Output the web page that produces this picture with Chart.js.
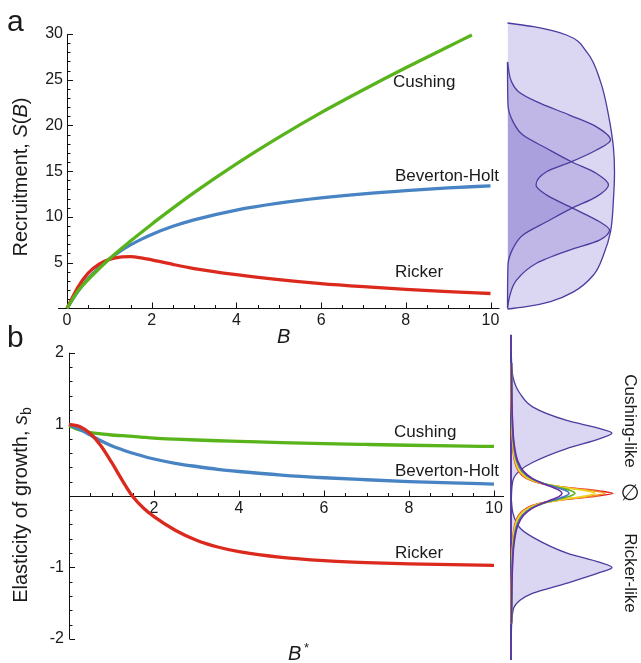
<!DOCTYPE html>
<html>
<head>
<meta charset="utf-8">
<script src="https://cdn.jsdelivr.net/npm/chart.js@4.4.0/dist/chart.umd.min.js"></script>
<style>
  html, body { margin: 0; padding: 0; background: #fff; }
  #fig { position: relative; width: 641px; height: 663px; overflow: hidden;
         font-family: "Liberation Sans", Arial, "DejaVu Sans", sans-serif; color: #1a1a1a; }
  #fig canvas { position: absolute; }
  .lbl { position: absolute; white-space: nowrap; line-height: 1; }
  .curve { font-size: 17px; transform: translateY(-50%); }
  .panel { font-size: 30px; }
  .title { font-size: 20px; transform: translate(-50%, -50%) rotate(-90deg); }
  .side { font-size: 17px; transform: translate(-50%, -50%) rotate(90deg); }
  .axis { font-size: 20px; font-style: italic; }
  sub { font-size: 0.7em; vertical-align: -0.3em; line-height: 0; }
</style>
</head>
<body>
<div id="fig">
  <canvas id="chartA" width="505" height="345" style="left:0;top:0"></canvas>
  <canvas id="sideA" width="141" height="320" style="left:500px;top:0"></canvas>
  <canvas id="chartB" width="510" height="333" style="left:0;top:330px"></canvas>
  <canvas id="sideB" width="141" height="333" style="left:500px;top:330px"></canvas>

  <div class="lbl panel" style="left:7px;top:5.6px">a</div>
  <div class="lbl panel" style="left:7px;top:321.6px">b</div>

  <div class="lbl title" style="left:20px;top:177px">Recruitment, <i>S</i>(<i>B</i>)</div>
  <div class="lbl title" style="left:20px;top:505px">Elasticity of growth, <i>s</i><sub>b</sub></div>
  <div class="lbl axis" style="left:277px;top:326px">B</div>
  <div class="lbl axis" style="left:288px;bottom:0px">B</div>
  <div class="lbl" style="left:304px;bottom:9px;font-size:13px">*</div>

  <div class="lbl curve" style="left:393px;top:81px">Cushing</div>
  <div class="lbl curve" style="left:395px;top:175px">Beverton-Holt</div>
  <div class="lbl curve" style="left:395px;top:271px">Ricker</div>
  <div class="lbl curve" style="left:394px;top:431px">Cushing</div>
  <div class="lbl curve" style="left:395px;top:470px">Beverton-Holt</div>
  <div class="lbl curve" style="left:395px;top:552px">Ricker</div>

  <div class="lbl side" style="left:630px;top:421px">Cushing-like</div>
  <div class="lbl side" style="left:630px;top:493px;font-size:22px;transform:translate(-50%,-50%)">&#8709;</div>
  <div class="lbl side" style="left:630px;top:573px">Ricker-like</div>
</div>

<script>
// painel a: recrutamento S(B)
const bGrid = [0, 0.25, 0.5, 0.75, 1, 1.25, 1.5, 1.75, 2, 2.5, 3, 4, 5, 6, 7, 8, 9, 10];
const rickerS = [0, 2.25, 3.85, 4.8, 5.35, 5.6, 5.65, 5.52, 5.3, 4.8, 4.35, 3.68, 3.14, 2.7, 2.36, 2.07, 1.82, 1.62];
const bevHoltS = [0, 1.81, 3.25, 4.42, 5.4, 6.23, 6.93, 7.54, 8.08, 8.97, 9.68, 10.75, 11.5, 12.07, 12.52, 12.87, 13.16, 13.4];
const cushingB = [0, 0.25, 0.5, 0.75, 1, 1.5, 2, 2.5, 3, 4, 5, 6, 7, 8, 9, 9.56];
const cushingS = [0, 1.85, 3.15, 4.3, 5.4, 7.35, 9.2, 10.95, 12.65, 15.8, 18.7, 21.4, 23.9, 26.3, 28.6, 29.9];
const aXTicks = [0, 2, 4, 6, 8, 10];
const aYTicks = [5, 10, 15, 20, 25, 30];

// painel b: elasticidade s_b
const bStarGrid = [0, 0.25, 0.5, 0.75, 1, 1.25, 1.5, 1.75, 2, 2.5, 3, 3.5, 4, 5, 6, 7, 8, 9, 10];
const rickerSb = [1.0, 0.97, 0.87, 0.7, 0.47, 0.22, -0.01, -0.17, -0.29, -0.48, -0.62, -0.715, -0.78, -0.86, -0.905, -0.932, -0.95, -0.962, -0.97];
const bevHoltSb = [1.0, 0.93, 0.85, 0.77, 0.7, 0.645, 0.595, 0.553, 0.515, 0.455, 0.41, 0.37, 0.34, 0.29, 0.253, 0.225, 0.2, 0.18, 0.165];
const cushingSb = [0.98, 0.92, 0.885, 0.865, 0.85, 0.84, 0.83, 0.818, 0.807, 0.792, 0.78, 0.77, 0.762, 0.745, 0.73, 0.718, 0.707, 0.698, 0.69];
const bXTicks = [2, 4, 6, 8, 10];
const bYTicks = [-2, -1, 1, 2];

// densidades laterais do painel a (posição 0..10 de baixo para cima)
const sideAOuterPos = [10, 9.87, 9.58, 9.0, 7.95, 6.78, 5.62, 4.8, 3.87, 2.7, 1.89, 1.19, 0.6, 0.26, 0.08, 0];
const sideAOuter = [0, 0.26, 0.59, 0.79, 0.93, 1.01, 1.06, 1.07, 1.06, 1.03, 0.96, 0.86, 0.66, 0.43, 0.19, 0];
const sideABimodalPos = [8.64, 7.95, 7.6, 7.25, 6.78, 6.37, 5.91, 5.56, 5.15, 4.8, 4.34, 3.99, 3.52, 3.05, 2.76, 2.41, 2.06, 1.6, 1.01, 0.43, 0.02];
const sideABimodal = [0, 0.04, 0.11, 0.29, 0.62, 0.89, 1.03, 0.89, 0.64, 0.39, 0.285, 0.39, 0.655, 0.92, 1.02, 0.92, 0.62, 0.29, 0.09, 0.02, 0];
const sideAMiddlePos = [8.64, 7.13, 6.55, 6.08, 5.62, 5.15, 4.74, 4.34, 3.93, 3.52, 3.05, 2.59, 2.12, 1.54, 0.03];
const sideAMiddle = [0, 0.005, 0.055, 0.155, 0.39, 0.64, 0.89, 1.01, 0.89, 0.64, 0.39, 0.155, 0.055, 0.005, 0];

// densidades laterais do painel b (mesma escala de s_b)
const sideBUpperPos = [2.0, 1.66, 1.43, 1.24, 1.054, 0.94, 0.877, 0.8, 0.66, 0.47, 0.356, 0.216, -0.05];
const sideBUpper = [0.002, 0.02, 0.09, 0.22, 0.557, 0.89, 1.01, 0.89, 0.557, 0.22, 0.09, 0.02, 0.003];
const sideBLowerPos = [-0.05, -0.244, -0.45, -0.58, -0.8, -0.93, -1.0, -1.07, -1.22, -1.36, -1.46, -1.6, -2.0];
const sideBLower = [0.003, 0.02, 0.09, 0.22, 0.56, 0.89, 1.01, 0.89, 0.56, 0.22, 0.09, 0.02, 0.002];
const rainbowPos = [1.855, 1.155, 0.735, 0.482, 0.342, 0.245, 0.175, 0.119, 0.077, 0.035, -0.007, -0.049, -0.105, -0.175, -0.272, -0.412, -0.665, -1.085, -1.785];
const rainbowRed = [0.0024, 0.0063, 0.016, 0.038, 0.077, 0.153, 0.29, 0.535, 0.832, 1.02, 0.832, 0.535, 0.29, 0.153, 0.077, 0.038, 0.016, 0.0063, 0.0024];
const rainbowOrange = [0.0026, 0.0067, 0.0171, 0.0406, 0.082, 0.16, 0.297, 0.528, 0.787, 0.94, 0.787, 0.528, 0.297, 0.16, 0.082, 0.0406, 0.0171, 0.0067, 0.0026];
const rainbowYellow = [0.0029, 0.0075, 0.019, 0.045, 0.09, 0.172, 0.308, 0.518, 0.727, 0.84, 0.727, 0.518, 0.308, 0.172, 0.09, 0.045, 0.019, 0.0075, 0.0029];
const rainbowGreen = [0.0038, 0.0098, 0.0246, 0.057, 0.11, 0.197, 0.32, 0.471, 0.587, 0.64, 0.587, 0.471, 0.32, 0.197, 0.11, 0.057, 0.0246, 0.0098, 0.0038];
const rainbowBlue = [0.0041, 0.0108, 0.0268, 0.061, 0.116, 0.203, 0.318, 0.447, 0.54, 0.58, 0.54, 0.447, 0.318, 0.203, 0.116, 0.061, 0.0268, 0.0108, 0.0041];
const rainbowPurple = [0.0048, 0.0124, 0.0305, 0.0685, 0.126, 0.211, 0.313, 0.416, 0.483, 0.51, 0.483, 0.416, 0.313, 0.211, 0.126, 0.0685, 0.0305, 0.0124, 0.0048];

const RED = '#db2a1d';
const BLUE = '#4884c4';
const GREEN = '#58b41a';
const OUTLINE = '#4b3ca0';
const LAVENDER = 'rgba(110, 90, 200, 0.25)';
const tickFont = { family: '"Liberation Sans", Arial, sans-serif', size: 16 };

function lineSet(xs, ys, color) {
  return {
    data: xs.map((x, i) => ({ x: x, y: ys[i] })),
    borderColor: color, borderWidth: 3.3, pointRadius: 0,
    cubicInterpolationMode: 'monotone', fill: false, clip: false
  };
}

function sideSet(pos, dens, color, filled, width) {
  return {
    data: pos.map((p, i) => ({ x: dens[i], y: p })),
    borderColor: color, borderWidth: width || 1.3, pointRadius: 0,
    cubicInterpolationMode: 'monotone',
    fill: filled ? { value: 0 } : false,
    backgroundColor: LAVENDER, clip: false
  };
}

// eixos no estilo Mathematica: linha + ticks maiores e menores para dentro
function mathAxes(spec) {
  return {
    id: 'mathAxes',
    beforeDatasetsDraw(chart) {
      const { ctx, scales: { x, y } } = chart;
      const ox = Math.round(x.getPixelForValue(0)) + 0.5;
      const oy = Math.round(y.getPixelForValue(0)) + 0.5;
      ctx.save();
      ctx.strokeStyle = '#111';
      ctx.lineWidth = 1;
      ctx.beginPath();
      ctx.moveTo(x.getPixelForValue(spec.xRange[0]) - spec.xExtend[0], oy);
      ctx.lineTo(x.getPixelForValue(spec.xRange[1]) + spec.xExtend[1], oy);
      ctx.moveTo(ox, y.getPixelForValue(spec.yRange[0]));
      ctx.lineTo(ox, y.getPixelForValue(spec.yRange[1]));
      const nx = Math.round((spec.xRange[1] - spec.xRange[0]) / spec.xMinor);
      for (let i = 0; i <= nx; i++) {
        const v = spec.xRange[0] + i * spec.xMinor;
        const major = Math.abs(v / spec.xMajor - Math.round(v / spec.xMajor)) < 1e-6;
        const tx = Math.round(x.getPixelForValue(v)) + 0.5;
        ctx.moveTo(tx, oy);
        ctx.lineTo(tx, oy - (major ? 6 : 3.5));
      }
      const ny = Math.round((spec.yRange[1] - spec.yRange[0]) / spec.yMinor);
      for (let i = 0; i <= ny; i++) {
        const v = spec.yRange[0] + i * spec.yMinor;
        const major = Math.abs(v / spec.yMajor - Math.round(v / spec.yMajor)) < 1e-6;
        const ty = Math.round(y.getPixelForValue(v)) + 0.5;
        ctx.moveTo(ox, ty);
        ctx.lineTo(ox + (major ? 5.5 : 3), ty);
      }
      ctx.stroke();
      ctx.restore();
    }
  };
}

// linha vertical roxa que serve de base às densidades do painel b
const sideBaseLine = {
  id: 'sideBaseLine',
  beforeDatasetsDraw(chart) {
    const { ctx, chartArea, scales: { x } } = chart;
    const bx = x.getPixelForValue(0);
    ctx.save();
    ctx.strokeStyle = '#5a3ea8';
    ctx.lineWidth = 2;
    ctx.beginPath();
    ctx.moveTo(bx, chartArea.top - 18);
    ctx.lineTo(bx, chartArea.bottom + 21);
    ctx.stroke();
    ctx.restore();
  }
};

const baseOptions = {
  responsive: false,
  animation: false,
  events: [],
  plugins: { legend: { display: false }, tooltip: { enabled: false }, filler: { drawTime: 'beforeDatasetsDraw' } }
};

function tickScale(min, max, ticks, extra) {
  return Object.assign({
    type: 'linear', min: min, max: max,
    grid: { display: false, drawTicks: false },
    border: { display: false },
    ticks: { font: tickFont, color: '#1a1a1a', maxRotation: 0, autoSkip: false, padding: 3 },
    afterBuildTicks: s => { s.ticks = ticks.map(v => ({ value: v })); }
  }, extra);
}

console.log('[figure] desenhando painel a');
new Chart(document.getElementById('chartA'), {
  type: 'line',
  data: { datasets: [lineSet(cushingB, cushingS, GREEN), lineSet(bGrid, rickerS, RED), lineSet(bGrid, bevHoltS, BLUE)] },
  options: Object.assign({}, baseOptions, {
    layout: { padding: { left: 0, top: 34, right: 14.5, bottom: 0 } },
    scales: {
      x: tickScale(0, 10, aXTicks, {
        afterFit: s => { s.height = 36.7; s.paddingLeft = 0; s.paddingRight = 0; }
      }),
      y: tickScale(0, 30, aYTicks, {
        ticks: { font: tickFont, color: '#1a1a1a', autoSkip: false, padding: 4 },
        afterFit: s => { s.width = 67; s.paddingTop = 0; s.paddingBottom = 0; }
      })
    }
  }),
  plugins: [mathAxes({ xRange: [0, 10], xExtend: [9, 9], xMajor: 2, xMinor: 0.5, yRange: [0, 30], yMajor: 5, yMinor: 1 })]
});

new Chart(document.getElementById('sideA'), {
  type: 'line',
  data: { datasets: [
    sideSet(sideAMiddlePos, sideAMiddle, OUTLINE, true),
    sideSet(sideABimodalPos, sideABimodal, OUTLINE, true),
    sideSet(sideAOuterPos, sideAOuter, OUTLINE, true)
  ] },
  options: Object.assign({}, baseOptions, {
    indexAxis: 'y',
    layout: { padding: { left: 7.5, top: 23, right: 13.5, bottom: 11 } },
    scales: {
      x: { type: 'linear', min: 0, max: 1.2, display: false },
      y: { type: 'linear', min: 0, max: 10, display: false }
    }
  })
});

console.log('[figure] desenhando painel b');
new Chart(document.getElementById('chartB'), {
  type: 'line',
  data: { datasets: [lineSet(bStarGrid, rickerSb, RED), lineSet(bStarGrid, bevHoltSb, BLUE), lineSet(bStarGrid, cushingSb, GREEN)] },
  options: Object.assign({}, baseOptions, {
    layout: { padding: { left: 0, top: 22.7, right: 16, bottom: 24 } },
    scales: {
      x: tickScale(0, 10, bXTicks, { position: { y: 0 } }),
      y: tickScale(-2, 2, bYTicks, {
        ticks: { font: tickFont, color: '#1a1a1a', autoSkip: false, padding: 5 },
        afterFit: s => { s.width = 69; s.paddingTop = 0; s.paddingBottom = 0; }
      })
    }
  }),
  plugins: [mathAxes({ xRange: [0, 10], xExtend: [0, 10], xMajor: 2, xMinor: 0.5, yRange: [-2, 2], yMajor: 1, yMinor: 0.2 })]
});

new Chart(document.getElementById('sideB'), {
  type: 'line',
  data: { datasets: [
    sideSet(rainbowPos, rainbowPurple, '#6a2d9e', false, 1.6),
    sideSet(rainbowPos, rainbowBlue, '#4a74cc', false, 1.6),
    sideSet(rainbowPos, rainbowGreen, '#5cb51a', false, 1.6),
    sideSet(rainbowPos, rainbowYellow, '#ecd422', false, 1.6),
    sideSet(rainbowPos, rainbowOrange, '#f2901c', false, 1.6),
    sideSet(rainbowPos, rainbowRed, '#e0251c', false, 1.6),
    sideSet(sideBUpperPos, sideBUpper, OUTLINE, true),
    sideSet(sideBLowerPos, sideBLower, OUTLINE, true)
  ] },
  options: Object.assign({}, baseOptions, {
    indexAxis: 'y',
    layout: { padding: { left: 11, top: 22.7, right: 10, bottom: 24 } },
    scales: {
      x: { type: 'linear', min: 0, max: 1.2, display: false },
      y: { type: 'linear', min: -2, max: 2, display: false }
    }
  }),
  plugins: [sideBaseLine]
});
console.log('[figure] pronto');
</script>
</body>
</html>
